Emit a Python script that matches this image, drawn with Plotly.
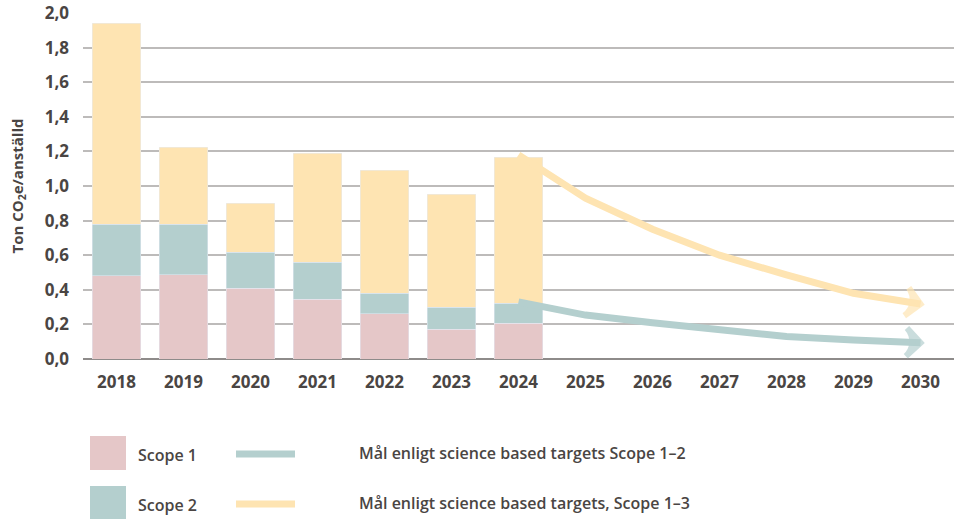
import plotly.graph_objects as go

# Stacked bars, ton CO2e per employee
years = [2018, 2019, 2020, 2021, 2022, 2023, 2024]
scope1 = [0.48, 0.486, 0.41, 0.346, 0.262, 0.172, 0.208]
scope2 = [0.30, 0.294, 0.208, 0.214, 0.118, 0.127, 0.115]
scope3 = [1.162, 0.445, 0.282, 0.63, 0.71, 0.653, 0.843]

# Science based target paths
target_years = [2024, 2025, 2026, 2027, 2028, 2029, 2030]
target_12 = [0.33, 0.254, 0.21, 0.172, 0.13, 0.11, 0.094]
target_13 = [1.18, 0.93, 0.75, 0.60, 0.486, 0.38, 0.318]

all_years = list(range(2018, 2031))

PINK = '#E5C7C8'
TEAL = '#B4CFCE'
YELLOW = '#FEE4B2'
TXT = '#4A4543'
FONT = 'Open Sans'

fig = go.Figure()
fig.add_trace(go.Bar(x=years, y=scope1, marker_color=PINK, width=0.73, name='Scope 1'))
fig.add_trace(go.Bar(x=years, y=scope2, marker_color=TEAL, width=0.73, name='Scope 2'))
fig.add_trace(go.Bar(x=years, y=scope3, marker_color=YELLOW, width=0.73, name='Scope 3'))

# target lines, arrowhead only on the last point
for vals, col in [(target_13, YELLOW), (target_12, TEAL)]:
    sizes = [0] * (len(vals) - 1) + [20]
    fig.add_trace(go.Scatter(
        x=target_years, y=vals, mode='lines+markers',
        line=dict(color=col, width=7),
        marker=dict(symbol='arrow-wide-open', size=sizes, angleref='previous',
                    color=col, line=dict(color=col, width=6)),
        cliponaxis=False))

fig.update_layout(
    barmode='stack', width=954, height=519,
    margin=dict(l=83, r=0, t=13, b=160),
    plot_bgcolor='white', paper_bgcolor='white',
    showlegend=False, separators=',.',
    font=dict(family=FONT, color=TXT, size=15),
)
fig.update_xaxes(range=[2017.5, 2030.5], tickvals=all_years, showgrid=False,
                 tickfont=dict(family=FONT, size=17, color=TXT, weight='bold'),
                 ticklabelstandoff=11, zeroline=False, showline=False)
fig.update_yaxes(range=[0, 2.0], dtick=0.2, tickformat='.1f', showgrid=True,
                 gridcolor='#BDBBBA', gridwidth=1.5, zeroline=True,
                 zerolinecolor='#8E8B8A', zerolinewidth=2,
                 tickfont=dict(family=FONT, size=17, color=TXT, weight='bold'),
                 ticklabelstandoff=13,
                 title=dict(text='Ton CO<sub>2</sub>e/anställd', standoff=17,
                            font=dict(family=FONT, size=15, color=TXT, weight='bold')))

# custom legend below the chart (pixel positions -> paper coords)
def px(xp):
    return (xp - 83) / 871

def py(yp):
    return (359 - yp) / 346

legend_rows = [
    ('Scope 1', PINK, 'Mål enligt science based targets Scope 1–2', TEAL, 454),
    ('Scope 2', TEAL, 'Mål enligt science based targets, Scope 1–3', YELLOW, 504),
]
for lab, sq, line_lab, line_col, yc in legend_rows:
    fig.add_shape(type='rect', xref='paper', yref='paper',
                  x0=px(90), x1=px(126), y0=py(yc - 18), y1=py(yc + 16),
                  fillcolor=sq, line_width=0)
    fig.add_annotation(text=lab, xref='paper', yref='paper', x=px(136), y=py(yc + 1),
                       xanchor='left', yanchor='middle', showarrow=False,
                       font=dict(family=FONT, size=16, color=TXT, weight=600))
    fig.add_shape(type='line', xref='paper', yref='paper',
                  x0=px(236), x1=px(295), y0=py(yc), y1=py(yc),
                  line=dict(color=line_col, width=7))
    fig.add_annotation(text=line_lab, xref='paper', yref='paper', x=px(357), y=py(yc - 1),
                       xanchor='left', yanchor='middle', showarrow=False,
                       font=dict(family=FONT, size=16, color=TXT, weight=600))

# drop the default 8px body margin so the figure fills the window
fig.write_html('out.html', config={'displayModeBar': False},
               post_script="document.body.style.margin='0';")
